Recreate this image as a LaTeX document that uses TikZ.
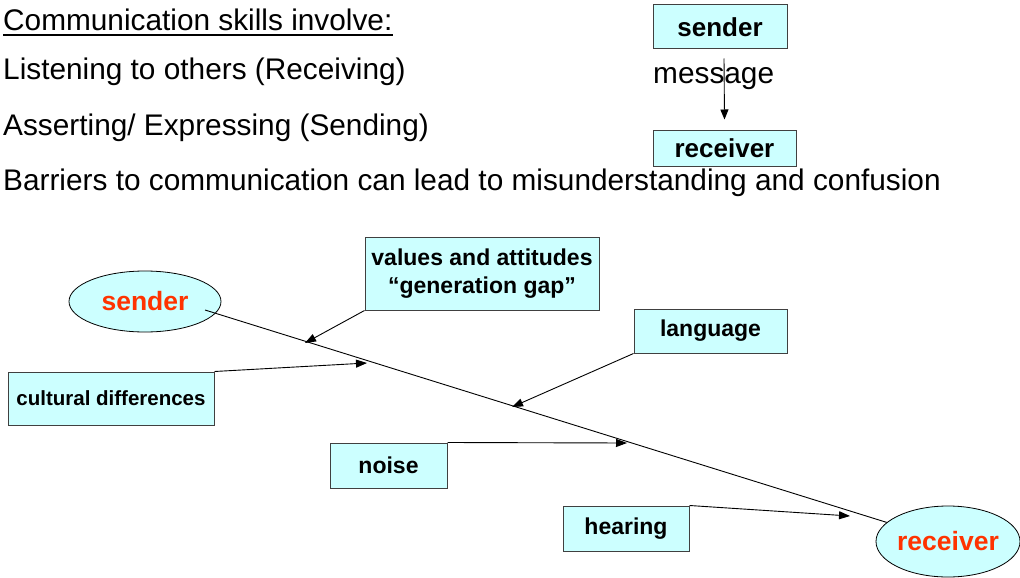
\documentclass[tikz,border=0pt]{standalone}
\usepackage{fontspec}
\setmainfont{Liberation Sans}
\usetikzlibrary{arrows.meta,shapes.geometric}
\definecolor{boxfill}{HTML}{CCFFFF}
\definecolor{redtext}{HTML}{FF3300}
\definecolor{edge}{HTML}{404040}
\begin{document}
\begin{tikzpicture}[x=1pt,y=-1pt,
  plain/.style={inner sep=0pt,anchor=base west,font=\fontsize{29.8}{32}\selectfont},
  barrier/.style={draw=edge,line width=1pt,fill=boxfill,inner sep=0pt,align=center,
    font=\fontsize{23}{28}\selectfont\bfseries},
  topbox/.style={draw=edge,line width=1pt,fill=boxfill,inner sep=0pt,
    font=\fontsize{26}{30}\selectfont\bfseries},
  party/.style={ellipse,draw=black,line width=0.8pt,fill=boxfill,inner sep=0pt,
    text=redtext,font=\fontsize{26.5}{30}\selectfont\bfseries},
  conn/.style={line width=0.9pt,-{Triangle[length=11pt,width=8pt]}}
]
\useasboundingbox (0,0) rectangle (1020,578);

% text lines
\node[plain] (head) at (3,31) {Communication skills involve:};
\draw[line width=2pt] ([yshift=-4pt]head.base west) -- ([yshift=-4pt]head.base east);
\node[plain] (l1) at (3,80) {Listening to others (Receiving)};
\node[plain] (l2) at (3,135) {Asserting/ Expressing (Sending)};
\node[plain] (l3) at (3,190) {Barriers to communication can lead to misunderstanding and confusion};

% top right mini model
\node[topbox,minimum width=134pt,minimum height=44pt] (sbox) at (720,27) {sender};
\node[plain] (msg) at (653,83) {message};
\node[topbox,minimum width=143pt,minimum height=36pt] (rbox) at (724.5,148) {receiver};
\draw[line width=0.9pt,-{Triangle[length=10pt,width=8pt]}]
  ([xshift=4pt,yshift=-9pt]sbox.south) -- ([yshift=10pt]rbox.north);

% bottom diagram
\node[party,minimum width=152pt,minimum height=61pt] (sender) at (145,301.5) {sender};
\node[party,minimum width=144pt,minimum height=71pt] (receiver) at (948,541.5) {receiver};
\coordinate (ms) at (205,310);
\draw[line width=0.9pt] (ms) -- (receiver);

\node[barrier,minimum width=234pt,minimum height=73pt] (values) at (482,273.5)
  {values and attitudes\\“generation gap”};
\node[barrier,minimum width=206pt,minimum height=53pt,font=\fontsize{20.5}{24}\selectfont\bfseries]
  (cult) at (111,398.5) {cultural differences};
\node[barrier,minimum width=153pt,minimum height=44pt] (lang) at (710.5,331) {language};
\node[barrier,minimum width=117pt,minimum height=45pt] (noise) at (388.5,465.5) {noise};
\node[barrier,minimum width=126pt,minimum height=45pt] (hear) at (626,528.5) {hearing};

\coordinate (p1) at (305,343);
\coordinate (p2) at (367,363);
\coordinate (p3) at (512,407);
\coordinate (p4) at (627,443);
\coordinate (p5) at (850,516);

\draw[conn] (values.south west) -- (p1);
\draw[conn] (cult.north east) -- (p2);
\draw[conn] (lang.south west) -- (p3);
\draw[conn] (noise.north east) -- (p4);
\draw[conn] (hear.north east) -- (p5);
\end{tikzpicture}
\end{document}
